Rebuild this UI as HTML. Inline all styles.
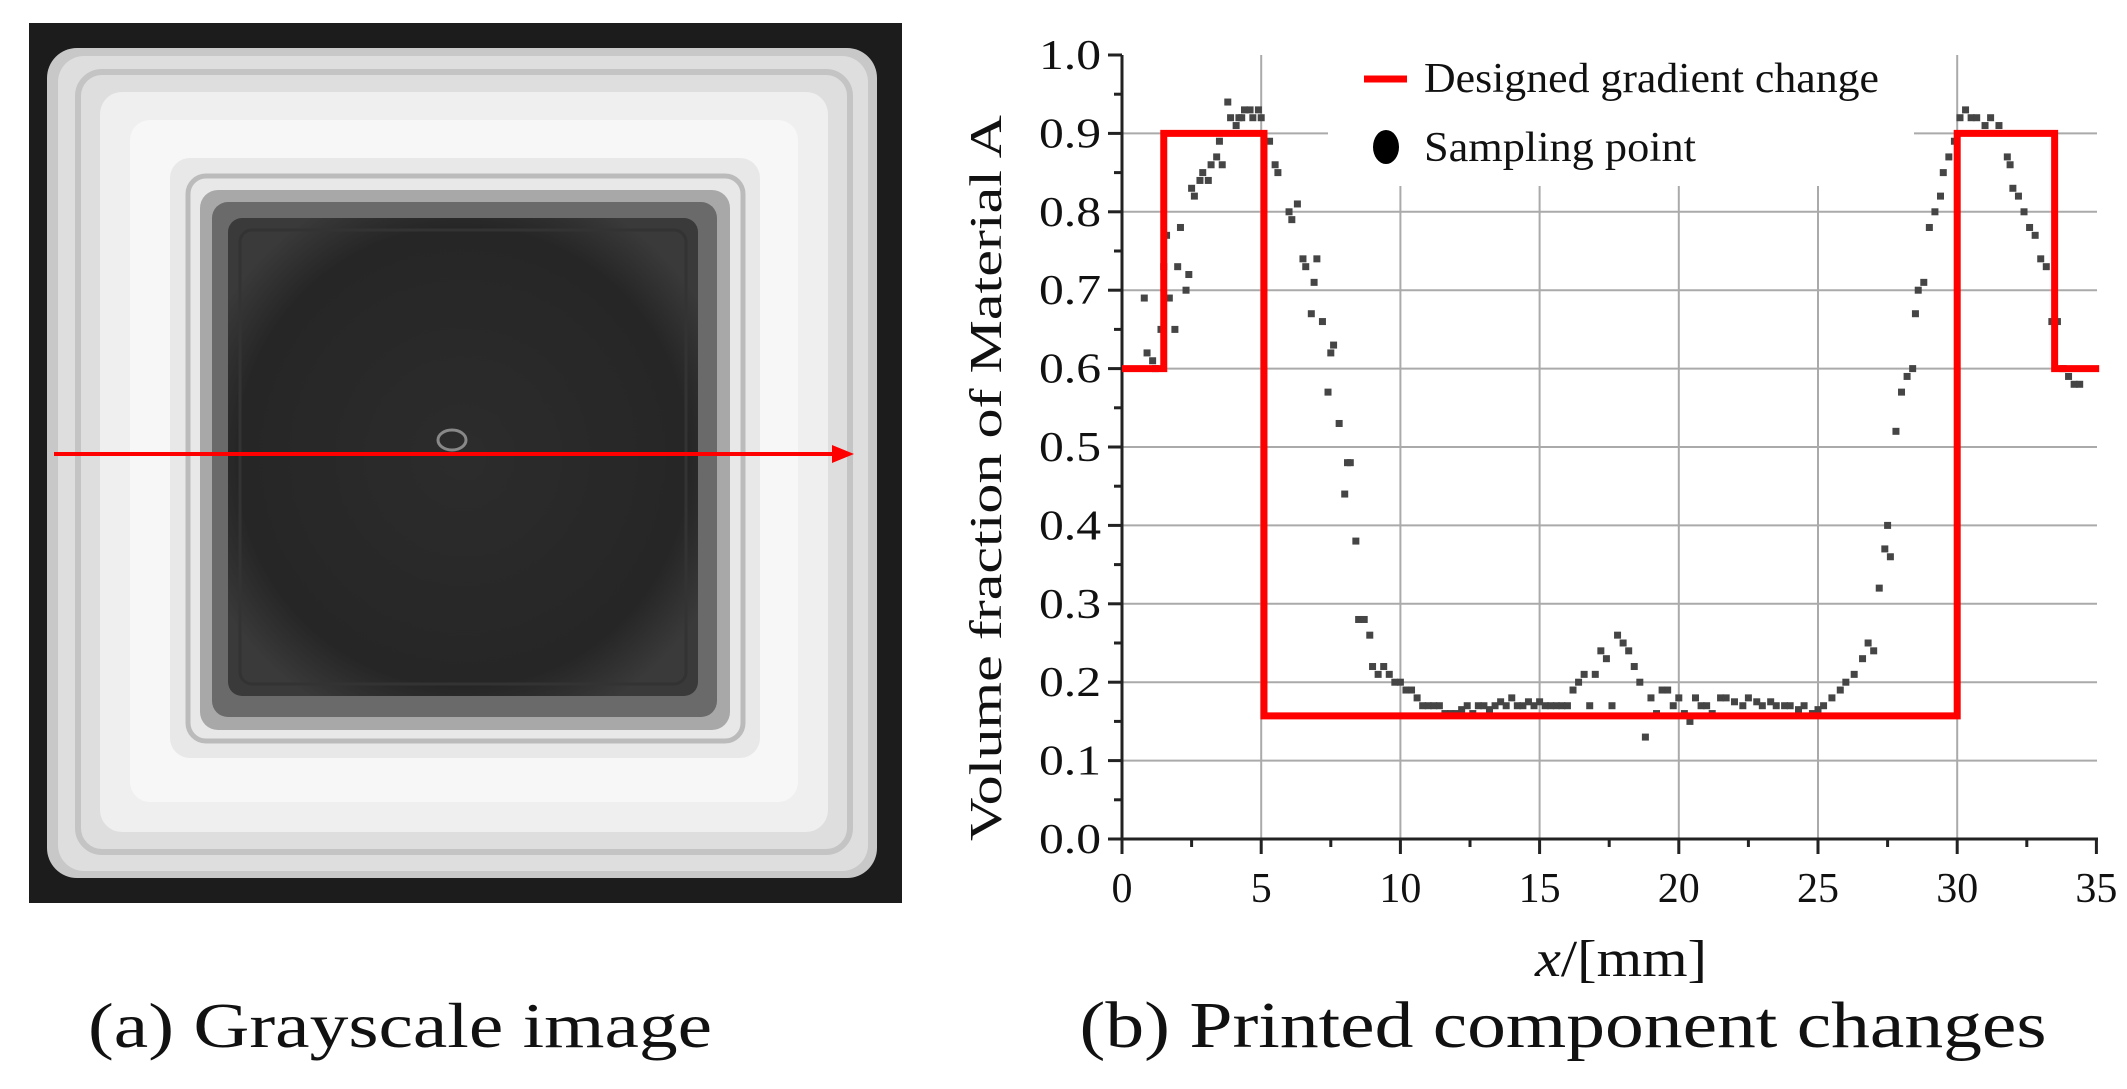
<!DOCTYPE html>
<html><head><meta charset="utf-8"><style>
html,body{margin:0;padding:0;background:#fff;width:2127px;height:1089px;overflow:hidden}
svg{display:block}
text{font-family:"Liberation Serif","Times New Roman",serif;fill:#111}
</style></head><body>
<svg id="s" width="2127" height="1089" viewBox="0 0 2127 1089" xmlns="http://www.w3.org/2000/svg">
<defs>
<radialGradient id="dk" cx="50%" cy="50%" r="60%"><stop offset="0" stop-color="#2c2c2c"/><stop offset="0.8" stop-color="#262626"/><stop offset="1" stop-color="#3a3a3a"/></radialGradient>
</defs>
<rect x="29" y="23" width="873" height="880" fill="#1c1c1c"/>
<rect x="47" y="48" width="830" height="830" rx="30" fill="#c8c8c8"/>
<rect x="58" y="56" width="810" height="815" rx="26" fill="#dedede"/>
<rect x="78" y="72" width="772" height="780" rx="24" fill="none" stroke="#c4c4c4" stroke-width="6"/>
<rect x="100" y="92" width="728" height="740" rx="22" fill="#efefef"/>
<rect x="130" y="120" width="668" height="682" rx="20" fill="#f7f7f7"/>
<rect x="170" y="158" width="590" height="600" rx="20" fill="#e8e8e8"/>
<rect x="188" y="176" width="555" height="565" rx="18" fill="none" stroke="#bbb" stroke-width="5"/>
<rect x="200" y="190" width="530" height="540" rx="18" fill="#a8a8a8"/>
<rect x="212" y="202" width="505" height="515" rx="16" fill="#6a6a6a"/>
<rect x="228" y="218" width="470" height="478" rx="14" fill="url(#dk)"/>
<rect x="240" y="230" width="446" height="454" rx="12" fill="none" stroke="#333" stroke-width="3"/>
<ellipse cx="452" cy="440" rx="14" ry="10" fill="none" stroke="#888" stroke-width="3"/>
<line x1="54" y1="454" x2="836" y2="454" stroke="#f00" stroke-width="4"/>
<polygon points="854,454 832,445 832,463" fill="#f00"/>
<text x="400" y="1047" font-size="64" text-anchor="middle" textLength="624" lengthAdjust="spacingAndGlyphs">(a) Grayscale image</text>
<g id="plot"></g>
</svg>
<script>
(function(){
var X0=1122,PX=27.84,Y0=839,PY=784;
function fx(v){return X0+v*PX}function fy(v){return Y0-v*PY}
var g='';
for(var i=1;i<=9;i++){var y=fy(i/10);
 if(i==9){g+='<line x1="'+X0+'" y1="'+y+'" x2="1328" y2="'+y+'" stroke="#aaa" stroke-width="2"/><line x1="1914" y1="'+y+'" x2="2097" y2="'+y+'" stroke="#aaa" stroke-width="2"/>';}
 else g+='<line x1="'+X0+'" y1="'+y+'" x2="2097" y2="'+y+'" stroke="#aaa" stroke-width="2"/>';}
for(var j=5;j<=30;j+=5){var x=fx(j);var ty=(j==5||j==30)?55:186;
 g+='<line x1="'+x+'" y1="'+ty+'" x2="'+x+'" y2="'+Y0+'" stroke="#aaa" stroke-width="2"/>';}
g+='<line x1="'+X0+'" y1="55" x2="'+X0+'" y2="'+(Y0+2)+'" stroke="#222" stroke-width="3"/>';
g+='<line x1="1110" y1="'+Y0+'" x2="2098" y2="'+Y0+'" stroke="#222" stroke-width="3"/>';
for(var i=0;i<=10;i++){var y=fy(i/10);
 g+='<line x1="1108" y1="'+y+'" x2="'+X0+'" y2="'+y+'" stroke="#222" stroke-width="3"/>';
 if(i<10){var y2=fy(i/10+0.05);g+='<line x1="1114" y1="'+y2+'" x2="'+X0+'" y2="'+y2+'" stroke="#222" stroke-width="3"/>';}
 g+='<text x="1101" y="'+(y+14)+'" font-size="42" text-anchor="end" textLength="62" lengthAdjust="spacingAndGlyphs">'+(i/10).toFixed(1)+'</text>';}
for(var j=0;j<=35;j+=5){var x=fx(j);
 g+='<line x1="'+x+'" y1="'+Y0+'" x2="'+x+'" y2="'+(Y0+15)+'" stroke="#222" stroke-width="3"/>';
 if(j<35){var x2=fx(j+2.5);g+='<line x1="'+x2+'" y1="'+Y0+'" x2="'+x2+'" y2="'+(Y0+8)+'" stroke="#222" stroke-width="3"/>';}
 g+='<text x="'+x+'" y="902" font-size="42" text-anchor="middle"'+(j>=10?' textLength="42" lengthAdjust="spacingAndGlyphs"':'')+'>'+j+'</text>';}
var d=[[0.8,.69],[0.9,.62],[1.1,.61],[1.2,.6],[1.4,.65],[1.5,.73],[1.6,.77],[1.7,.69],[1.9,.65],[2.0,.73],[2.1,.78],[2.3,.70],[2.4,.72],[2.5,.83],[2.6,.82],[2.8,.84],[2.9,.85],[3.1,.84],[3.2,.86],[3.4,.87],[3.5,.89],[3.6,.86],[3.8,.94],[3.9,.92],[4.1,.91],[4.2,.92],[4.3,.92],[4.4,.93],[4.6,.93],[4.7,.92],[4.9,.93],[5.0,.92],[5.3,.89],[5.5,.86],[5.6,.85],[6.0,.80],[6.1,.79],[6.3,.81],[6.5,.74],[6.6,.73],[6.8,.67],[6.9,.71],[7.0,.74],[7.2,.66],[7.4,.57],[7.5,.62],[7.6,.63],[7.8,.53],[8.0,.44],[8.1,.48],[8.2,.48],[8.4,.38],[8.5,.28],[8.7,.28],[8.9,.26],[9.0,.22],[9.2,.21],[9.4,.22],[9.6,.21],[9.8,.20],[10,.20],[10.2,.19],[10.4,.19],[10.6,.18],[10.8,.17],[11,.17],[11.2,.17],[11.4,.17],[11.6,.16],[11.8,.16],[12,.16],[12.2,.165],[12.4,.17],[12.6,.16],[12.8,.17],[13,.17],[13.2,.165],[13.4,.17],[13.6,.175],[13.8,.17],[14,.18],[14.2,.17],[14.4,.17],[14.6,.175],[14.8,.17],[15,.175],[15.2,.17],[15.4,.17],[15.6,.17],[15.8,.17],[16,.17],[16.2,.19],[16.4,.20],[16.6,.21],[16.8,.17],[17,.21],[17.2,.24],[17.4,.23],[17.6,.17],[17.8,.26],[18,.25],[18.2,.24],[18.4,.22],[18.6,.20],[18.8,.13],[19,.18],[19.2,.16],[19.4,.19],[19.6,.19],[19.8,.17],[20,.18],[20.2,.16],[20.4,.15],[20.6,.18],[20.8,.17],[21,.17],[21.2,.16],[21.5,.18],[21.7,.18],[22,.175],[22.3,.17],[22.5,.18],[22.8,.175],[23,.17],[23.3,.175],[23.5,.17],[23.8,.17],[24,.17],[24.3,.165],[24.5,.17],[24.8,.16],[25,.165],[25.2,.17],[25.5,.18],[25.8,.19],[26,.20],[26.3,.21],[26.6,.23],[26.8,.25],[27,.24],[27.2,.32],[27.4,.37],[27.5,.40],[27.6,.36],[27.8,.52],[28,.57],[28.2,.59],[28.4,.60],[28.5,.67],[28.6,.70],[28.8,.71],[29,.78],[29.2,.80],[29.4,.82],[29.5,.85],[29.7,.87],[29.9,.89],[30.1,.92],[30.3,.93],[30.5,.92],[30.7,.92],[31,.91],[31.2,.92],[31.5,.91],[31.8,.87],[31.9,.86],[32,.83],[32.2,.82],[32.4,.80],[32.6,.78],[32.8,.77],[33,.74],[33.2,.73],[33.4,.66],[33.6,.66],[33.8,.60],[34,.59],[34.2,.58],[34.4,.58]];
d.forEach(function(p){g+='<rect x="'+(fx(p[0])-3.5)+'" y="'+(fy(p[1])-3.5)+'" width="7" height="7" fill="#454545"/>';});
var pts=[[0,.6],[1.5,.6],[1.5,.9],[5.1,.9],[5.1,.157],[30,.157],[30,.9],[33.5,.9],[33.5,.6],[35.1,.6]].map(function(p){return fx(p[0])+','+fy(p[1]);}).join(' ');
g+='<polyline points="'+pts+'" fill="none" stroke="#f00" stroke-width="7" stroke-linejoin="miter"/>';
g+='<line x1="1364" y1="79" x2="1407" y2="79" stroke="#f00" stroke-width="7"/>';
g+='<text x="1424" y="92" font-size="42" textLength="455" lengthAdjust="spacingAndGlyphs">Designed gradient change</text>';
g+='<ellipse cx="1386" cy="147" rx="13" ry="17" fill="#000"/>';
g+='<text x="1424" y="161" font-size="42" textLength="272" lengthAdjust="spacingAndGlyphs">Sampling point</text>';
g+='<text transform="translate(1001,478) rotate(-90)" font-size="46" text-anchor="middle" textLength="726" lengthAdjust="spacingAndGlyphs">Volume fraction of Material A</text>';
g+='<text x="1621" y="976" font-size="52" text-anchor="middle" textLength="172" lengthAdjust="spacingAndGlyphs"><tspan font-style="italic">x</tspan>/[mm]</text>';
g+='<text x="1563" y="1047" font-size="66" text-anchor="middle" textLength="967" lengthAdjust="spacingAndGlyphs">(b) Printed component changes</text>';
document.getElementById('plot').innerHTML=g;
})();
</script>
</body></html>
